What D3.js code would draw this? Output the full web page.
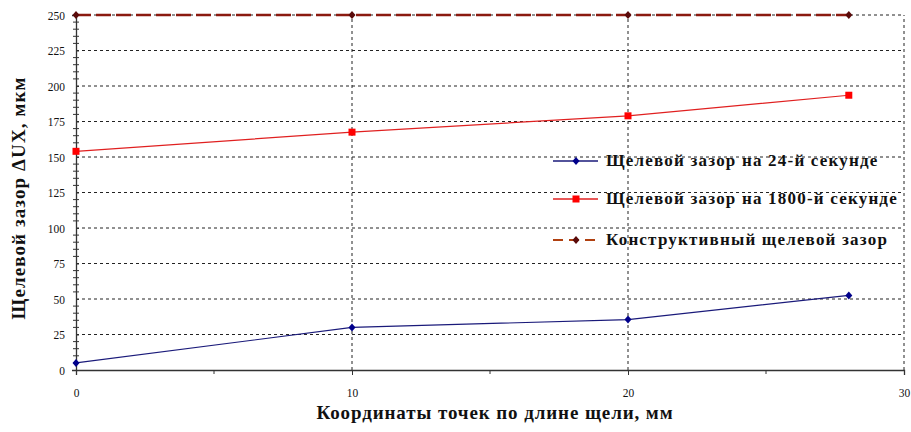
<!DOCTYPE html>
<html>
<head>
<meta charset="utf-8">
<script src="https://cdn.jsdelivr.net/npm/d3@7"></script>
<style>
  html, body { margin: 0; padding: 0; background: #fff; }
  svg { display: block; }
</style>
</head>
<body>
<svg id="chart" width="911" height="432"></svg>
<script>
// Coordinates along the slot, mm
const xValues = [0, 10, 20, 28];
// Gap at the 24th second, µm
const gap24 = [5, 30, 35.5, 52.5];
// Gap at the 1800th second, µm
const gap1800 = [154, 167.5, 179, 193.5];
// Design gap, µm
const gapDesign = [250, 250, 250, 250];

const xTicks = [0, 10, 20, 30];
const yTicks = [0, 25, 50, 75, 100, 125, 150, 175, 200, 225, 250];

const seriesNames = [
  "Щелевой зазор на 24-й секунде",
  "Щелевой зазор на 1800-й секунде",
  "Конструктивный щелевой зазор"
];

const svg = d3.select("#chart");
const margin = { left: 76, right: 7, top: 15, bottom: 62 };
const W = 911, H = 432;

const x = d3.scaleLinear().domain([0, 30]).range([margin.left, W - margin.right]);
const y = d3.scaleLinear().domain([0, 250]).range([H - margin.bottom, margin.top]);

const serif = "'Liberation Serif', 'Times New Roman', serif";

// Horizontal dashed grid
svg.append("g").selectAll("line")
  .data(yTicks.filter(d => d > 0))
  .join("line")
  .attr("x1", x(0)).attr("x2", x(30))
  .attr("y1", d => y(d)).attr("y2", d => y(d))
  .attr("stroke", "#222").attr("stroke-width", 1)
  .attr("stroke-dasharray", "3,3");

// Vertical dashed grid
svg.append("g").selectAll("line")
  .data(xTicks.filter(d => d > 0))
  .join("line")
  .attr("x1", d => x(d)).attr("x2", d => x(d))
  .attr("y1", y(0)).attr("y2", y(250))
  .attr("stroke", "#222").attr("stroke-width", 1)
  .attr("stroke-dasharray", "3,3");

// Y axis with major and minor ticks
const yAxis = d3.axisLeft(y).tickValues(yTicks).tickSize(4).tickPadding(5)
  .tickFormat(d3.format("d"));
const gy = svg.append("g").attr("transform", `translate(${x(0)},0)`).call(yAxis);
gy.select(".domain").attr("stroke", "#333").attr("stroke-width", 1.3);
gy.selectAll(".tick line").attr("x2", 3).attr("stroke", "#333");
gy.selectAll("text").attr("font-family", serif).attr("font-size", 13)
  .attr("fill", "#111").attr("transform", "scale(0.88,1)")
  .attr("x", -11 / 0.88);
const yMinor = d3.range(0, 251, 5).filter(d => d % 25 !== 0);
svg.append("g").selectAll("line").data(yMinor).join("line")
  .attr("x1", x(0) - 3).attr("x2", x(0) + 3)
  .attr("y1", d => y(d)).attr("y2", d => y(d))
  .attr("stroke", "#333");

// X axis with major and minor ticks
const xAxis = d3.axisBottom(x).tickValues(xTicks).tickSize(5).tickPadding(13)
  .tickFormat(d3.format("d"));
const gx = svg.append("g").attr("transform", `translate(0,${y(0)})`).call(xAxis);
gx.select(".domain").attr("stroke", "#333").attr("stroke-width", 1.3);
gx.selectAll(".tick line").attr("stroke", "#333");
gx.selectAll("text").attr("font-family", serif).attr("font-size", 13)
  .attr("fill", "#111").attr("transform", "scale(0.88,1)");
svg.append("g").selectAll("line").data([5, 15, 25]).join("line")
  .attr("x1", d => x(d)).attr("x2", d => x(d))
  .attr("y1", y(0)).attr("y2", y(0) + 4)
  .attr("stroke", "#333");

// Series
const line = d3.line().x(d => x(d[0])).y(d => y(d[1]));
const series = [
  { vals: gap24, color: "#1a1a7a", width: 1.2, dash: null, marker: "diamond", mcolor: "#00008b" },
  { vals: gap1800, color: "#e02020", width: 1.2, dash: null, marker: "square", mcolor: "#ff0000" },
  { vals: gapDesign, color: "#8b1a10", width: 2.4, dash: "15,5", marker: "diamond", mcolor: "#5a0a0a" }
];

function drawMarker(g, type, cx, cy, color, s) {
  if (type === "square") {
    g.append("rect").attr("x", cx - s).attr("y", cy - s)
      .attr("width", 2 * s).attr("height", 2 * s).attr("fill", color);
  } else {
    g.append("path")
      .attr("d", `M${cx},${cy - s - 0.5}L${cx + s},${cy}L${cx},${cy + s + 0.5}L${cx - s},${cy}Z`)
      .attr("fill", color);
  }
}

series.forEach(s => {
  const pts = xValues.map((xv, i) => [xv, s.vals[i]]);
  svg.append("path").datum(pts)
    .attr("d", line).attr("fill", "none")
    .attr("stroke", s.color).attr("stroke-width", s.width)
    .attr("stroke-dasharray", s.dash);
  const g = svg.append("g");
  pts.forEach(p => drawMarker(g, s.marker, x(p[0]), y(p[1]), s.mcolor, 3.5));
});

// Legend
const legend = svg.append("g");
const legendRows = [161, 199, 240];
const legendLine = [
  { color: "#1a1a7a", dash: null, width: 1.5 },
  { color: "#e02020", dash: null, width: 1.5 },
  { color: "#b04010", dash: "10,6", width: 2.2 }
];
seriesNames.forEach((name, i) => {
  const ly = legendRows[i];
  legend.append("line")
    .attr("x1", 553).attr("x2", 598).attr("y1", ly).attr("y2", ly)
    .attr("stroke", legendLine[i].color).attr("stroke-width", legendLine[i].width)
    .attr("stroke-dasharray", legendLine[i].dash);
  drawMarker(legend, series[i].marker, 576, ly, series[i].mcolor, 3.5);
  legend.append("text")
    .attr("x", 606).attr("y", ly + 5)
    .attr("font-family", serif).attr("font-weight", "bold").attr("font-size", 17)
    .attr("letter-spacing", 1.2)
    .attr("fill", "#111").text(name);
});

// Axis titles
svg.append("text")
  .attr("x", 495).attr("y", 419)
  .attr("text-anchor", "middle")
  .attr("font-family", serif).attr("font-weight", "bold").attr("font-size", 19)
  .attr("letter-spacing", 0.9)
  .attr("fill", "#111")
  .text("Координаты точек по длине щели, мм");

svg.append("text")
  .attr("transform", "translate(25,198) rotate(-90)")
  .attr("text-anchor", "middle")
  .attr("font-family", serif).attr("font-weight", "bold").attr("font-size", 19)
  .attr("letter-spacing", 1.1)
  .attr("fill", "#111")
  .text("Щелевой зазор  ΔUX, мкм");
</script>
</body>
</html>
